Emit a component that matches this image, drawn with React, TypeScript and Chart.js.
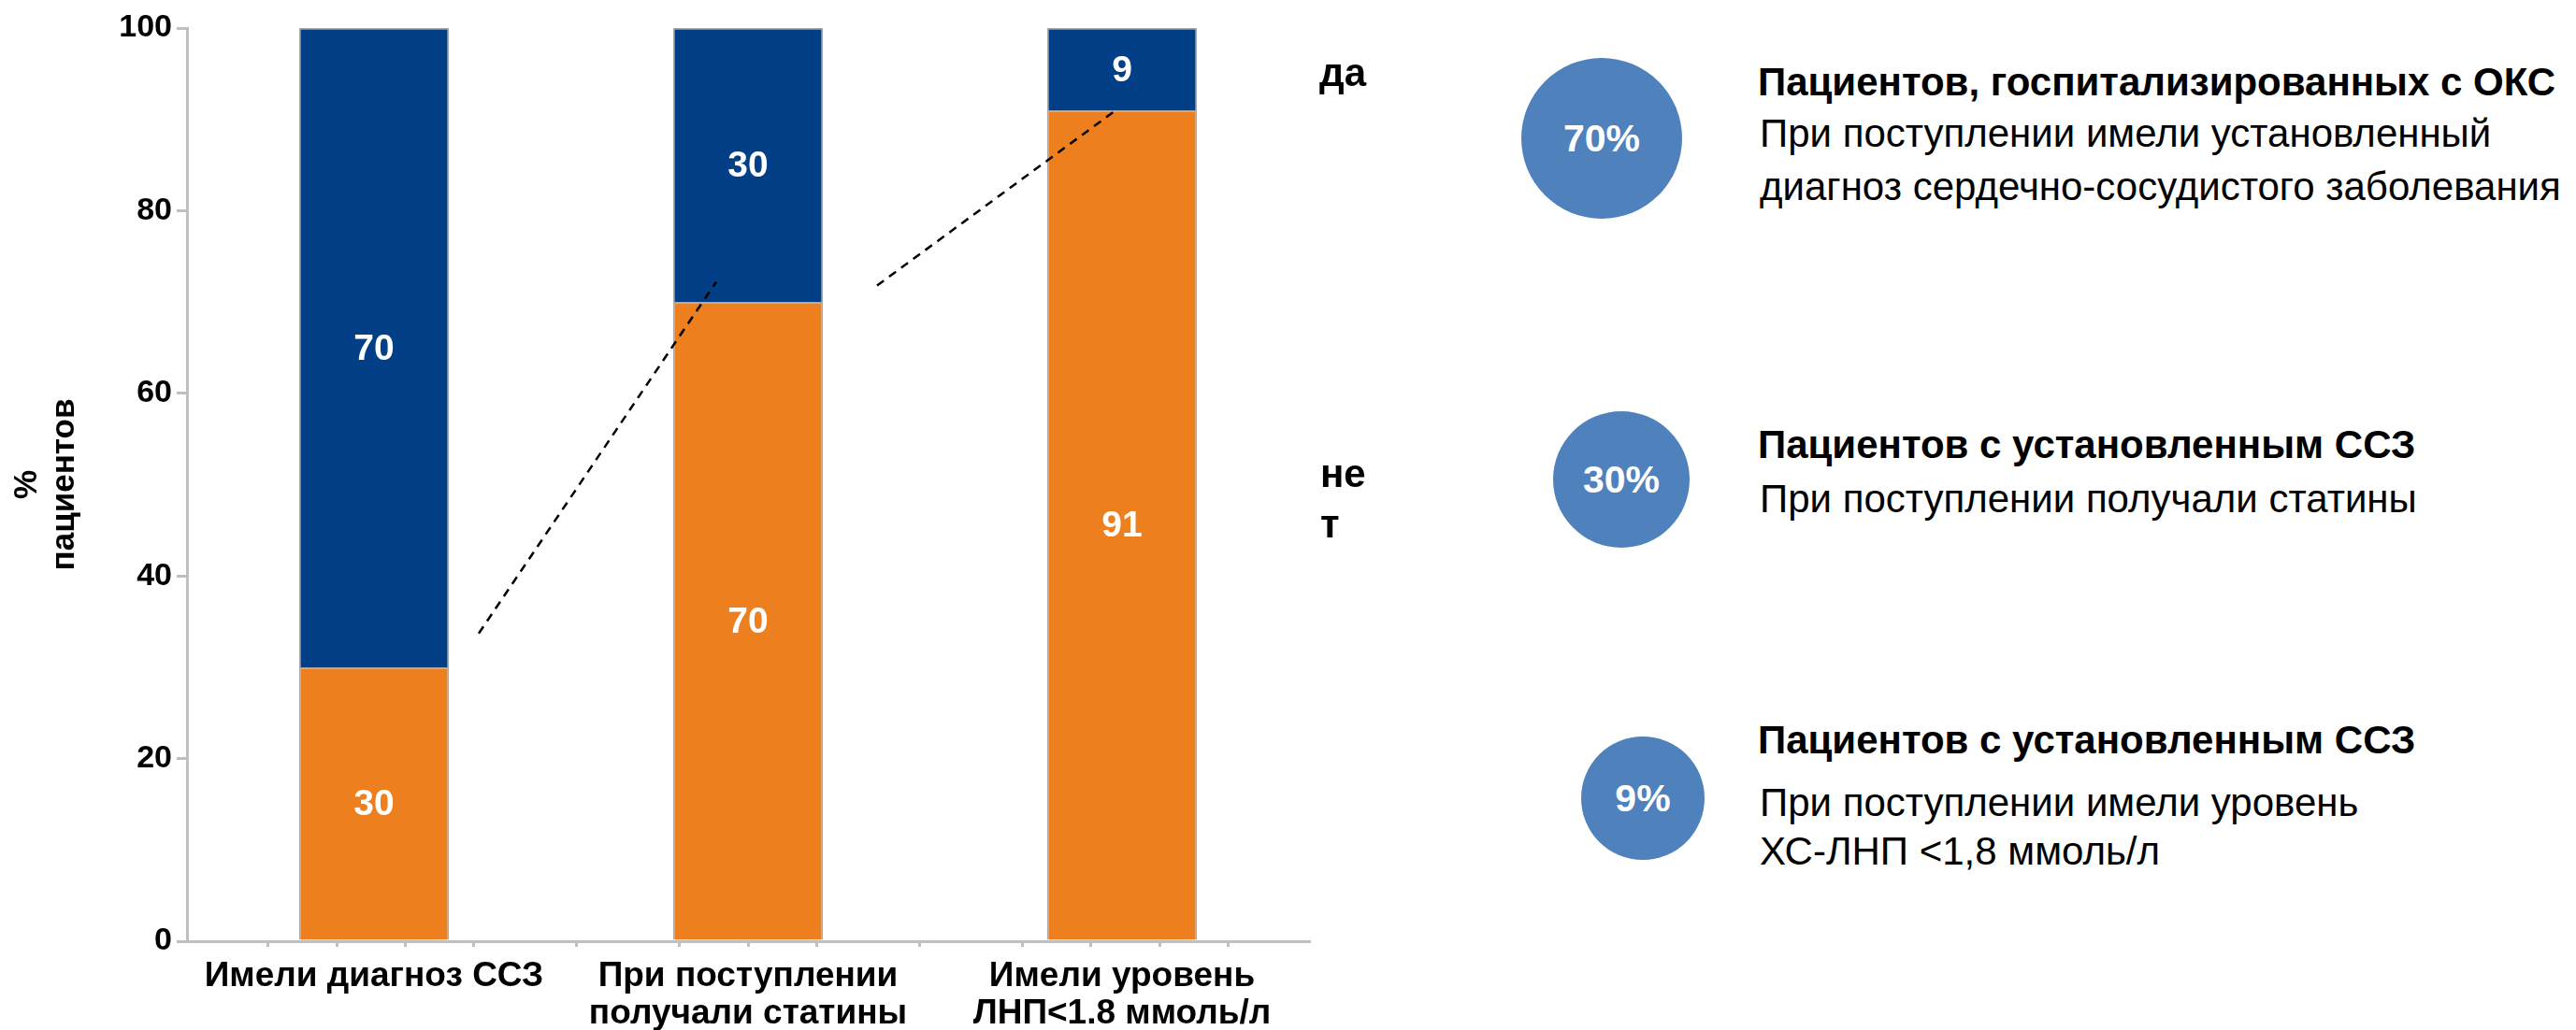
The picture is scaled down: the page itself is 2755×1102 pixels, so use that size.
import React, { useEffect, useRef } from "react";
import { Chart, registerables } from "chart.js";

Chart.register(...registerables);

// ---- data ----
const categories: string[][] = [
  ["Имели диагноз ССЗ"],
  ["При поступлении", "получали статины"],
  ["Имели уровень", "ЛНП<1.8 ммоль/л"],
];
const noValues = [30, 70, 91]; // "нет" (orange, bottom)
const yesValues = [70, 30, 9]; // "да" (blue, top)
const yTickStep = 20;
const yMax = 100;
const yTitle = ["%", "пациентов"];
const seriesNames = ["нет", "да"];
// dashed connectors between bars, in data units (category index, value)
const connectorFrom = [
  [0.28, 33.7],
  [1.345, 71.8],
];
const connectorTo = [
  [0.915, 72.2],
  [1.99, 91.2],
];

// right panel
const statPercents = ["70%", "30%", "9%"];
const statTitles = [
  "Пациентов, госпитализированных с ОКС",
  "Пациентов с установленным ССЗ",
  "Пациентов с установленным ССЗ",
];
const statLines = [
  ["При поступлении имели установленный", "диагноз сердечно-сосудистого заболевания"],
  ["При поступлении получали статины"],
  ["При поступлении имели уровень", "ХС-ЛНП <1,8 ммоль/л"],
];

const FONT = '"Liberation Sans", Arial, Helvetica, sans-serif';
const BLUE = "#023F86";
const ORANGE = "#EE7F1E";
const AXIS = "#BFBFBF";
const CIRCLE = "#4F81BD";

const valueLabelPlugin = {
  id: "valueLabels",
  afterDatasetsDraw(chart: any) {
    const ctx = chart.ctx;
    ctx.save();
    ctx.font = `bold 39px ${FONT}`;
    ctx.fillStyle = "#FFFFFF";
    ctx.textAlign = "center";
    ctx.textBaseline = "middle";
    chart.data.datasets.forEach((ds: any, di: number) => {
      const meta = chart.getDatasetMeta(di);
      meta.data.forEach((bar: any, i: number) => {
        const p = bar.getProps(["x", "y", "base"], true);
        ctx.fillText(String(ds.data[i]), p.x, (p.y + p.base) / 2 + 2);
      });
    });
    ctx.restore();
  },
};

const connectorPlugin = {
  id: "connectors",
  afterDraw(chart: any) {
    const ctx = chart.ctx;
    const xs = chart.scales.x;
    const ys = chart.scales.y;
    ctx.save();
    ctx.strokeStyle = "#000000";
    ctx.lineWidth = 2.5;
    ctx.setLineDash([9, 7]);
    connectorFrom.forEach((f, i) => {
      const t = connectorTo[i];
      ctx.beginPath();
      ctx.moveTo(xs.getPixelForValue(f[0]), ys.getPixelForValue(f[1]));
      ctx.lineTo(xs.getPixelForValue(t[0]), ys.getPixelForValue(t[1]));
      ctx.stroke();
    });
    ctx.restore();
  },
};

function BarChart() {
  const ref = useRef<HTMLCanvasElement | null>(null);
  useEffect(() => {
    if (!ref.current) return;
    const chart = new Chart(ref.current, {
      type: "bar",
      data: {
        labels: categories as any,
        datasets: [
          {
            label: seriesNames[0],
            data: noValues,
            backgroundColor: ORANGE,
            borderColor: "#A8A8A8",
            borderWidth: 1.5,
            barPercentage: 0.4,
            categoryPercentage: 1,
          },
          {
            label: seriesNames[1],
            data: yesValues,
            backgroundColor: BLUE,
            borderColor: "#A8A8A8",
            borderWidth: 1.5,
            barPercentage: 0.4,
            categoryPercentage: 1,
          },
        ],
      },
      options: {
        responsive: false,
        animation: false,
        devicePixelRatio: 1,
        layout: { padding: { left: 0, right: 70, top: 30, bottom: 0 } },
        plugins: {
          legend: { display: false },
          tooltip: { enabled: false },
        },
        scales: {
          x: {
            type: "category",
            stacked: true,
            offset: true,
            weight: 1,
            grid: { display: false, drawTicks: false },
            border: { display: false },
            ticks: {
              color: "#000000",
              font: { family: FONT, size: 37, weight: "bold", lineHeight: 1.1 },
              padding: 11,
              maxRotation: 0,
              autoSkip: false,
            },
            afterFit: (s: any) => {
              s.height = 89;
            },
          },
          x2: {
            type: "linear",
            position: "bottom",
            min: 0,
            max: 15,
            weight: 0,
            ticks: { display: false, stepSize: 1, maxTicksLimit: 40 },
            afterBuildTicks: (s: any) => {
              s.ticks = s.ticks.filter((t: any) => t.value % 5 !== 0);
            },
            grid: {
              drawOnChartArea: false,
              drawTicks: true,
              tickLength: 6,
              color: AXIS,
              lineWidth: 3,
            },
            border: { display: true, color: AXIS, width: 3 },
          },
          y: {
            type: "linear",
            stacked: true,
            min: 0,
            max: yMax,
            ticks: {
              stepSize: yTickStep,
              color: "#000000",
              font: { family: FONT, size: 34, weight: "bold" },
              padding: 5,
            },
            grid: {
              drawOnChartArea: false,
              drawTicks: true,
              tickLength: 11,
              color: AXIS,
              lineWidth: 3,
            },
            border: { display: true, color: AXIS, width: 3 },
            title: {
              display: true,
              text: yTitle,
              color: "#000000",
              font: { family: FONT, size: 35, weight: "bold", lineHeight: 1.15 },
              padding: { top: 9, bottom: 0 },
            },
            afterFit: (s: any) => {
              s.width = 200;
            },
          },
        },
      },
      plugins: [valueLabelPlugin, connectorPlugin],
    } as any);
    return () => chart.destroy();
  }, []);
  return (
    <canvas
      ref={ref}
      width={1470}
      height={1102}
      style={{ position: "absolute", left: 0, top: 0, width: 1470, height: 1102 }}
    />
  );
}

const circleCenters = [
  [1713, 148, 86],
  [1734, 513, 73],
  [1757, 854, 66],
];
const titleCenters = [88, 476, 792];
const lineCenters = [
  [143, 200],
  [534],
  [859, 911],
];

export default function App() {
  const lineH = 52;
  return (
    <div
      style={{
        position: "absolute",
        left: 0,
        top: 0,
        width: 2755,
        height: 1102,
        overflow: "hidden",
        background: "#FFFFFF",
        fontFamily: FONT,
        color: "#000000",
      }}
    >
      <BarChart />
      <div
        style={{
          position: "absolute",
          left: 1411,
          top: 53,
          fontSize: 42,
          fontWeight: "bold",
          lineHeight: "50px",
          whiteSpace: "nowrap",
        }}
      >
        {seriesNames[1]}
      </div>
      <div
        style={{
          position: "absolute",
          left: 1412,
          top: 480,
          fontSize: 42,
          fontWeight: "bold",
          lineHeight: "54px",
          whiteSpace: "nowrap",
        }}
      >
        <div>не</div>
        <div>т</div>
      </div>
      {statPercents.map((p, i) => {
        const [cx, cy, r] = circleCenters[i];
        return (
          <div
            key={"c" + i}
            style={{
              position: "absolute",
              left: cx - r,
              top: cy - r,
              width: 2 * r,
              height: 2 * r,
              borderRadius: "50%",
              background: CIRCLE,
              color: "#FFFFFF",
              fontWeight: "bold",
              fontSize: 41,
              display: "flex",
              alignItems: "center",
              justifyContent: "center",
            }}
          >
            {p}
          </div>
        );
      })}
      {statTitles.map((t, i) => (
        <div
          key={"t" + i}
          style={{
            position: "absolute",
            left: 1880,
            top: titleCenters[i] - lineH / 2,
            lineHeight: lineH + "px",
            fontSize: 42,
            fontWeight: "bold",
            whiteSpace: "nowrap",
          }}
        >
          {t}
        </div>
      ))}
      {statLines.map((lines, i) =>
        lines.map((l, j) => (
          <div
            key={"l" + i + "_" + j}
            style={{
              position: "absolute",
              left: 1882,
              top: lineCenters[i][j] - lineH / 2,
              lineHeight: lineH + "px",
              fontSize: 42,
              whiteSpace: "nowrap",
            }}
          >
            {l}
          </div>
        ))
      )}
    </div>
  );
}
